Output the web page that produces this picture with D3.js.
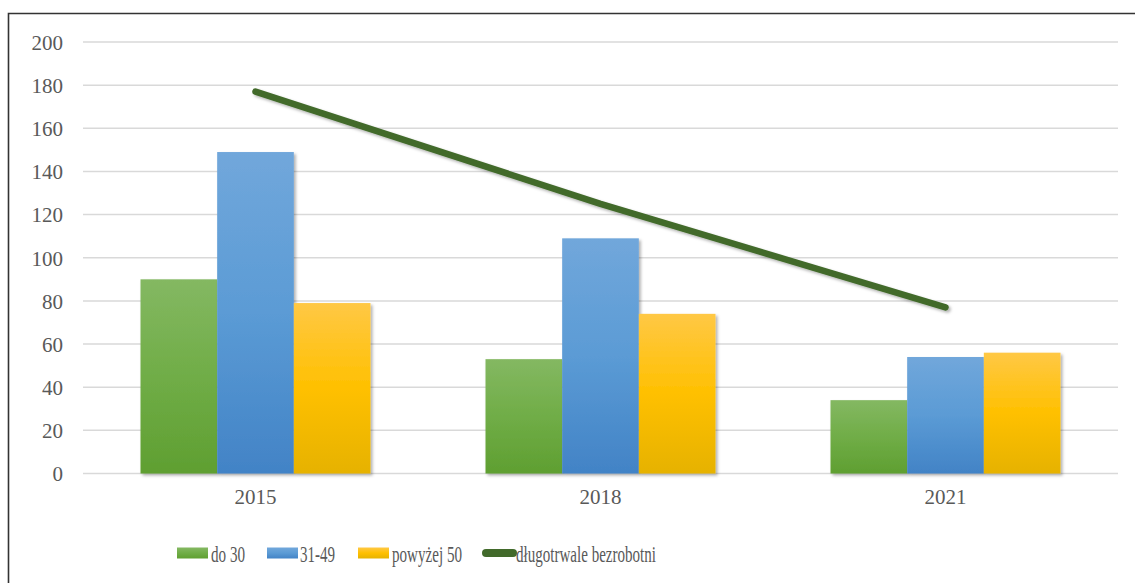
<!DOCTYPE html>
<html>
<head>
<meta charset="utf-8">
<script src="https://cdn.jsdelivr.net/npm/d3@7"></script>
<style>
  html, body { margin: 0; padding: 0; background: #fff; }
  svg { display: block; }
  text { font-family: "Liberation Serif", "Times New Roman", serif; fill: #595959; }
</style>
</head>
<body>
<svg id="chart" width="1135" height="583"></svg>
<script>
const years = ["2015", "2018", "2021"];
const seriesNames = ["do 30", "31-49", "powyżej 50"];
const do30 = [90, 53, 34];
const s31_49 = [149, 109, 54];
const pow50 = [79, 74, 56];
const dlugotrwale = [177, 125, 77];
const lineName = "długotrwale bezrobotni";
const yTicks = [0, 20, 40, 60, 80, 100, 120, 140, 160, 180, 200];

const barSeries = [do30, s31_49, pow50];
const grads = [
  ["#84b862", "#70ad47", "#5f9f31"],
  ["#71a7db", "#5b9bd5", "#4283c6"],
  ["#ffc845", "#ffc000", "#e6b200"]
];
const swatchColors = ["#70ad47", "#5b9bd5", "#ffc000"];
const lineColor = "#426a2b";

const svg = d3.select("#chart");
const defs = svg.append("defs");

grads.forEach((g, i) => {
  const lg = defs.append("linearGradient").attr("id", "g" + i)
    .attr("x1", 0).attr("y1", 0).attr("x2", 0).attr("y2", 1);
  lg.append("stop").attr("offset", "0%").attr("stop-color", g[0]);
  lg.append("stop").attr("offset", "50%").attr("stop-color", g[1]);
  lg.append("stop").attr("offset", "100%").attr("stop-color", g[2]);
});
const f = defs.append("filter").attr("id", "shadow")
  .attr("x", "-20%").attr("y", "-20%").attr("width", "140%").attr("height", "140%");
f.append("feDropShadow").attr("dx", 2).attr("dy", 2).attr("stdDeviation", 1.8)
  .attr("flood-color", "#000").attr("flood-opacity", 0.3);

// border
svg.append("path").attr("d", "M8.5,583 V13.5 H1135")
  .attr("fill", "none").attr("stroke", "#333").attr("stroke-width", 1.6);

const y = d3.scaleLinear().domain([0, 200]).range([473.5, 42]);
const x0 = d3.scaleBand().domain(years).range([83, 1118]).padding(0);
const x1 = d3.scaleBand().domain(seriesNames).range([57.5, 287.5]).padding(0);

// gridlines
svg.append("g").selectAll("line").data(yTicks).join("line")
  .attr("x1", 83).attr("x2", 1118)
  .attr("y1", d => y(d)).attr("y2", d => y(d))
  .attr("stroke", "#d9d9d9").attr("stroke-width", 1.5);

// y axis labels
const yAxis = d3.axisLeft(y).tickValues(yTicks).tickSize(0).tickPadding(0);
const ya = svg.append("g").attr("transform", "translate(63,0)").call(yAxis);
ya.select(".domain").remove();
ya.selectAll("text").attr("font-size", 21).attr("fill", "#595959")
  .style("font-family", "'Liberation Serif', serif").attr("dy", "0.35em");

// x axis labels
const xAxis = d3.axisBottom(x0).tickSize(0).tickPadding(0);
const xa = svg.append("g").attr("transform", "translate(0,489)").call(xAxis);
xa.select(".domain").remove();
xa.selectAll("text").attr("font-size", 21).attr("fill", "#595959")
  .style("font-family", "'Liberation Serif', serif").attr("dy", "0.71em");

// bars
const gBars = svg.append("g");
barSeries.forEach((vals, si) => {
  gBars.append("g").attr("filter", "url(#shadow)").selectAll("rect").data(vals).join("rect")
    .attr("x", (d, i) => x0(years[i]) + x1(seriesNames[si]))
    .attr("width", x1.bandwidth())
    .attr("y", d => y(d))
    .attr("height", d => y(0) - y(d))
    .attr("fill", "url(#g" + si + ")");
});

// line
const line = d3.line()
  .x((d, i) => x0(years[i]) + x0.bandwidth() / 2)
  .y(d => y(d));
svg.append("path").datum(dlugotrwale)
  .attr("d", line)
  .attr("fill", "none").attr("stroke", lineColor).attr("stroke-width", 6.5)
  .attr("stroke-linecap", "round").attr("stroke-linejoin", "round")
  .attr("filter", "url(#shadow)");

// legend
const leg = svg.append("g");
const legItems = [
  { name: seriesNames[0], type: "rect", color: swatchColors[0], sx: 177, tx: 211, tw: 34 },
  { name: seriesNames[1], type: "rect", color: swatchColors[1], sx: 267, tx: 300, tw: 35 },
  { name: seriesNames[2], type: "rect", color: swatchColors[2], sx: 358, tx: 392, tw: 70 },
  { name: lineName, type: "line", color: lineColor, sx: 482, tx: 516, tw: 140 }
];
legItems.forEach((it, i) => {
  if (it.type === "rect") {
    leg.append("rect").attr("x", it.sx).attr("y", 547.5).attr("width", 31).attr("height", 11)
      .attr("fill", "url(#g" + i + ")");
  } else {
    leg.append("line").attr("x1", it.sx + 4).attr("x2", it.sx + 31)
      .attr("y1", 553).attr("y2", 553)
      .attr("stroke", it.color).attr("stroke-width", 8).attr("stroke-linecap", "round");
  }
  leg.append("text").attr("x", it.tx).attr("y", 562)
    .attr("font-size", 23).attr("textLength", it.tw).attr("lengthAdjust", "spacingAndGlyphs")
    .text(it.name);
});
</script>
</body>
</html>
